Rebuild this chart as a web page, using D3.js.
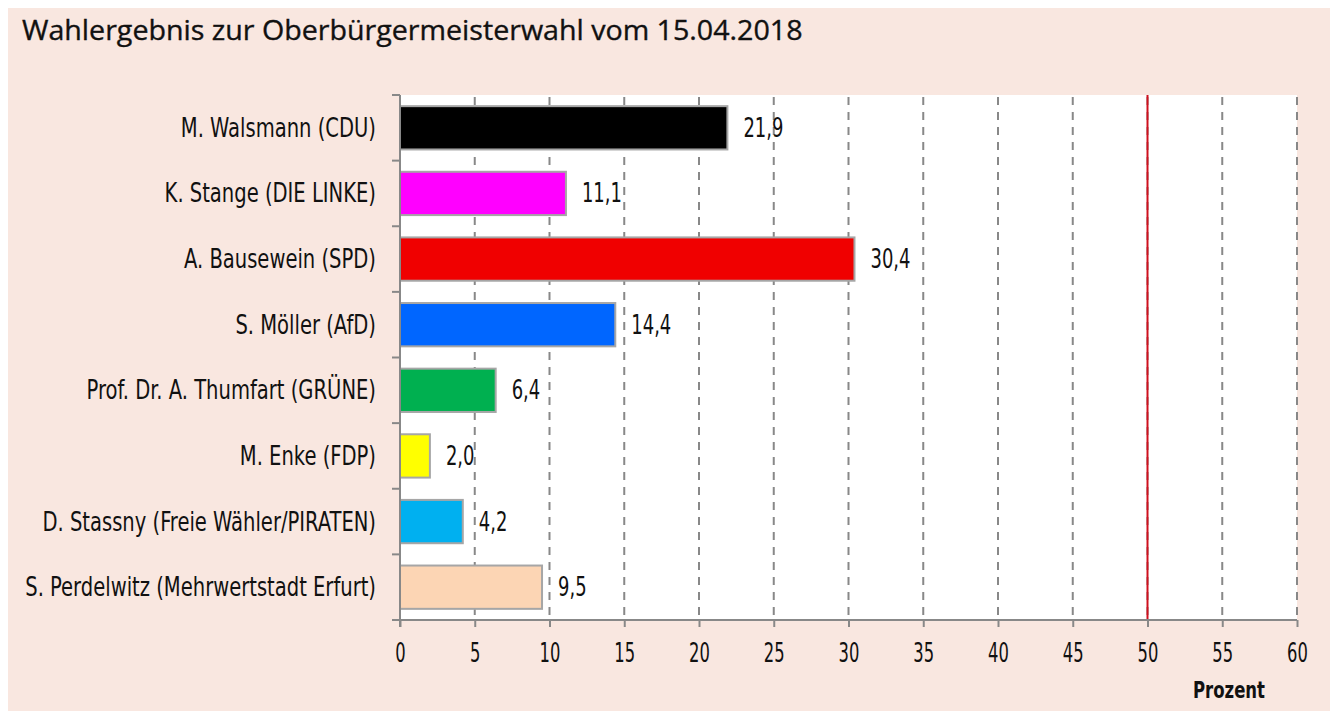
<!DOCTYPE html>
<html><head><meta charset="utf-8">
<script src="https://cdn.jsdelivr.net/npm/d3@7"></script>
<style>body{margin:0;background:#fff;} svg{display:block;}</style>
</head><body>
<svg id="c" width="1330" height="711"></svg>
<script>
const categories = ["M. Walsmann (CDU)","K. Stange (DIE LINKE)","A. Bausewein (SPD)","S. Möller (AfD)","Prof. Dr. A. Thumfart (GRÜNE)","M. Enke (FDP)","D. Stassny (Freie Wähler/PIRATEN)","S. Perdelwitz (Mehrwertstadt Erfurt)"];
const values = [21.9, 11.1, 30.4, 14.4, 6.4, 2.0, 4.2, 9.5];
const barColors = ["#000000","#ff00ff","#f00000","#0066ff","#00b050","#ffff00","#00b0f0","#fcd5b4"];
const xTicks = [0,5,10,15,20,25,30,35,40,45,50,55,60];
const majorityLine = 50;
const title = "Wahlergebnis zur Oberbürgermeisterwahl vom 15.04.2018";
const axisTitle = "Prozent";

const svg = d3.select("#c");
const cond = "'DejaVu Sans Condensed','DejaVu Sans',sans-serif";
svg.append("rect").attr("x",8).attr("y",8).attr("width",1322).attr("height",703).attr("fill","#f9e7e0");

// helper: draw text horizontally squeezed
function squeezed(sel, sx){
  sel.each(function(){
    const t=d3.select(this); const x=+t.attr("x"), y=+t.attr("y");
    t.attr("x",0).attr("y",0).attr("transform",`translate(${x},${y}) scale(${sx},1)`);
  });
}

const tt = svg.append("text").attr("x",22).attr("y",40).attr("font-family","'Open Sans',sans-serif")
 .attr("font-size",27).attr("fill","#111").attr("stroke","#111").attr("stroke-width",0.35).text(title);
squeezed(tt, 781/tt.node().getComputedTextLength());

const L=400,R=1297,T=95,B=620;
const x = d3.scaleLinear().domain([0,60]).range([L,R]);
const y = d3.scaleBand().domain(categories).range([T,B]).paddingInner(0.34).paddingOuter(0.17);
svg.append("rect").attr("x",L).attr("y",T).attr("width",R-L).attr("height",B-T).attr("fill","#fff");

// grid
svg.append("g").selectAll("line").data(xTicks.filter(d=>d>0)).join("line")
 .attr("x1",d=>x(d)).attr("x2",d=>x(d)).attr("y1",T+2).attr("y2",B)
 .attr("stroke","#888").attr("stroke-width",2).attr("stroke-dasharray","8,7");
// majority line
svg.append("line").attr("x1",x(majorityLine)).attr("x2",x(majorityLine)).attr("y1",T).attr("y2",B)
 .attr("stroke","#d0101e").attr("stroke-width",2);

// bars
svg.append("g").selectAll("rect").data(values).join("rect")
 .attr("x",x(0)).attr("y",(d,i)=>y(categories[i])).attr("width",d=>x(d)-x(0)).attr("height",y.bandwidth())
 .attr("fill",(d,i)=>barColors[i]).attr("stroke","#a6a6a6").attr("stroke-width",2);
const vl = svg.append("g").selectAll("text").data(values).join("text")
 .attr("x",d=>x(d)+16).attr("y",(d,i)=>y(categories[i])+y.bandwidth()/2+9)
 .attr("font-family",cond).attr("font-size",26).attr("fill","#111")
 .text(d=>d.toFixed(1).replace(".",","));
squeezed(vl, 40/vl.node().getComputedTextLength());

// x axis
const xa = svg.append("g").attr("transform",`translate(0,${B})`)
 .call(d3.axisBottom(x).tickValues(xTicks).tickSize(7).tickPadding(14).tickFormat(d=>d));
xa.select(".domain").attr("stroke","#888").attr("stroke-width",2).attr("d",`M${L-8},0H${R}`);
xa.selectAll(".tick line").attr("stroke","#888").attr("stroke-width",2);
xa.selectAll(".tick text").attr("font-family",cond).attr("font-size",26).attr("fill","#111")
 .attr("dy",null).attr("y",42).attr("transform","scale(0.7,1)");
const pz = svg.append("text").attr("x",1193).attr("y",698).attr("font-family",cond)
 .attr("font-weight","bold").attr("font-size",23).attr("fill","#111").text(axisTitle);
squeezed(pz, 72/pz.node().getComputedTextLength());

// y axis
const yb = d3.scaleLinear().domain([0,categories.length]).range([T,B]);
const ya = svg.append("g").attr("transform",`translate(${L},0)`);
ya.append("line").attr("x1",0).attr("x2",0).attr("y1",T).attr("y2",B+7).attr("stroke","#888").attr("stroke-width",2);
ya.selectAll("line.t").data(d3.range(categories.length)).join("line").attr("class","t")
 .attr("x1",-8).attr("x2",0).attr("y1",d=>yb(d)).attr("y2",d=>yb(d)).attr("stroke","#888").attr("stroke-width",2);
const cl = svg.append("g").selectAll("text").data(categories).join("text")
 .attr("x",376).attr("y",d=>y(d)+y.bandwidth()/2+9).attr("text-anchor","end")
 .attr("font-family",cond).attr("font-size",26).attr("fill","#111").text(d=>d);
const longest = d3.max(cl.nodes(), n=>n.getComputedTextLength());
squeezed(cl, 351/longest);
</script>
</body></html>
